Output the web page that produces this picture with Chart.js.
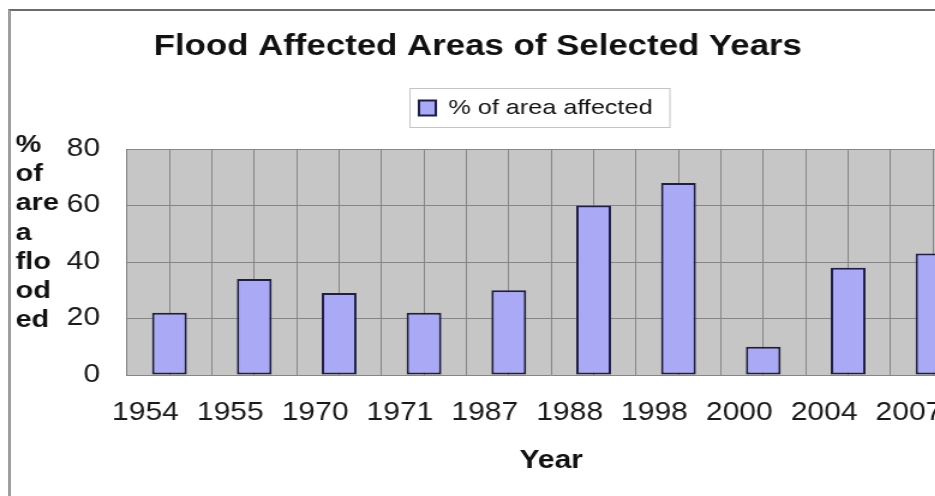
<!DOCTYPE html>
<html>
<head>
<meta charset="utf-8">
<script src="https://cdn.jsdelivr.net/npm/chart.js@4.4.1/dist/chart.umd.min.js"></script>
<style>
  html, body { margin: 0; padding: 0; overflow: hidden; background: #fff; }
  #wrap { position: relative; width: 935px; height: 496px; overflow: hidden; }
  #chart { position: absolute; left: 0; top: 0; }
  #frame {
    position: absolute; left: 8px; top: 9px; width: 2000px; height: 1000px;
    border-top: 2px solid #6c6c6c; border-left: 3px solid #a0a0a0;
    pointer-events: none;
  }
</style>
</head>
<body>
<div id="wrap">
  <!-- drawn 833 wide and stretched sideways to 1000, like the original screenshot -->
  <canvas id="chart" width="833" height="496" style="width:1000px;height:496px"></canvas>
  <div id="frame"></div>
</div>
<script>
// data
const years = ['1954', '1955', '1970', '1971', '1987', '1988', '1998', '2000', '2004', '2007'];
const areaAffected = [22, 34, 29, 22, 30, 60, 68, 10, 38, 43];
const yTicks = [0, 20, 40, 60, 80];
const yTitleLines = ['%', 'of', 'are', 'a', 'flo', 'od', 'ed'];
// half-category slots, only used for the vertical grid lines
const halfSlots = years.flatMap(() => ['', '']);

Chart.defaults.font.family = "'Liberation Sans', Arial, sans-serif";
Chart.defaults.color = '#1a1a1a';

const excelLook = {
  id: 'excelLook',
  beforeDraw(chart) {
    const { ctx, chartArea: a } = chart;
    ctx.save();
    ctx.fillStyle = '#ffffff';
    ctx.fillRect(0, 0, chart.width, chart.height);
    ctx.fillStyle = '#c6c6c6';
    ctx.fillRect(a.left, a.top, a.right - a.left, a.bottom - a.top);
    ctx.restore();
  },
  afterLayout(chart) {
    // title and legend sit where Excel put them, not centred on the canvas
    const t = chart.titleBlock;
    const tw = t.right - t.left;
    t.left = 398 - tw / 2;
    t.right = t.left + tw;

    const lg = chart.legend;
    const lw = lg.right - lg.left;
    lg.left = 339;
    lg.right = lg.left + lw;
    lg.top -= 20.5;
    lg.bottom -= 20.5;
  },
  afterDraw(chart) {
    const ctx = chart.ctx;
    ctx.save();
    // legend frame
    const lg = chart.legend;
    const hb = lg.legendHitBoxes[0];
    const sx = lg.left + 10;
    const cy = lg.top + 10 + 10.5;
    ctx.strokeStyle = '#c4c4c4';
    ctx.lineWidth = 1;
    ctx.strokeRect(sx - 7.5, cy - 19.5, hb.width + 22, 39);

    // wrapped y axis title
    ctx.fillStyle = '#111';
    ctx.font = "bold 24px 'Liberation Sans', Arial, sans-serif";
    ctx.textBaseline = 'alphabetic';
    ctx.textAlign = 'left';
    yTitleLines.forEach((line, i) => {
      ctx.fillText(line, 13, 152 + i * 29.2);
    });
    ctx.restore();
  }
};

const ctx = document.getElementById('chart').getContext('2d');
const chart = new Chart(ctx, {
  type: 'bar',
  data: {
    labels: years,
    datasets: [{
      label: '% of area affected',
      data: areaAffected,
      backgroundColor: '#a9a9f5',
      borderColor: '#1e1e46',
      borderWidth: 2,
      borderSkipped: false,
      barPercentage: 0.41,
      categoryPercentage: 1.0
    }]
  },
  options: {
    responsive: false,
    animation: false,
    layout: {
      padding: { left: 33, right: 20.5, top: 0, bottom: 4 }
    },
    plugins: {
      title: {
        display: true,
        text: 'Flood Affected Areas of Selected Years',
        color: '#111',
        font: { size: 29, weight: 'bold' },
        padding: { top: 30, bottom: 43.2 }
      },
      legend: {
        display: true,
        position: 'top',
        align: 'start',
        labels: {
          boxWidth: 14,
          boxHeight: 15,
          padding: 10,
          color: '#111',
          font: { size: 21 }
        }
      },
      tooltip: { enabled: false }
    },
    scales: {
      x: {
        grid: { display: false, drawTicks: false },
        border: { display: false },
        ticks: {
          autoSkip: false,
          maxRotation: 0,
          padding: 23,
          labelOffset: -20,
          color: '#1a1a1a',
          font: { size: 25 }
        },
        title: {
          display: true,
          text: 'Year',
          color: '#111',
          font: { size: 25, weight: 'bold' },
          padding: { top: -5, bottom: 16 }
        }
      },
      x2: {
        type: 'category',
        axis: 'x',
        position: 'bottom',
        labels: halfSlots,
        offset: true,
        grid: { offset: true, color: '#868686', lineWidth: 1, drawTicks: false },
        border: { display: false },
        ticks: { display: false }
      },
      y: {
        min: 0,
        max: 80,
        afterBuildTicks(scale) {
          scale.ticks = yTicks.map(v => ({ value: v }));
        },
        grid: { color: '#868686', lineWidth: 1, drawTicks: false },
        border: { display: true, color: '#7a7a7a' },
        ticks: {
          padding: 22.5,
          color: '#1a1a1a',
          font: { size: 25 }
        }
      }
    }
  },
  plugins: [excelLook]
});
</script>
</body>
</html>
